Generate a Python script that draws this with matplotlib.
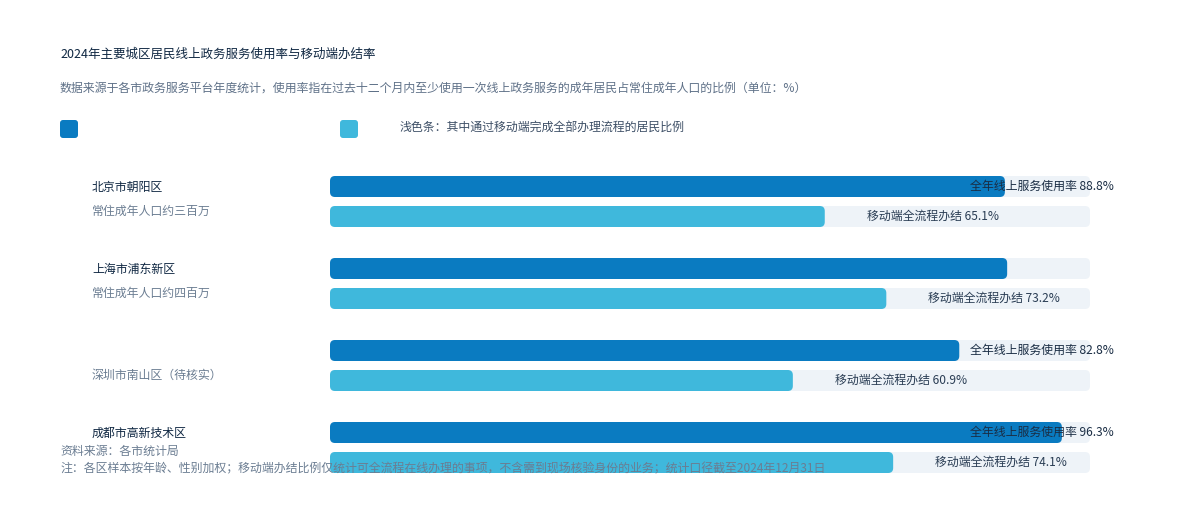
import matplotlib
matplotlib.use("Agg")
import matplotlib.pyplot as plt
from matplotlib.patches import FancyBboxPatch
from matplotlib import transforms

plt.rcParams['font.family'] = ['Noto Sans CJK SC', 'DejaVu Sans']

# ---- data ----
title = "2024年主要城区居民线上政务服务使用率与移动端办结率"
subtitle = ("数据来源于各市政务服务平台年度统计，使用率指在过去十二个月内至少使用一次"
            "线上政务服务的成年居民占常住成年人口的比例（单位：%）")
legend_labels = ["", "浅色条：其中通过移动端完成全部办理流程的居民比例"]
group_names = ["北京市朝阳区", "上海市浦东新区", "", "成都市高新技术区"]
group_subs = ["常住成年人口约三百万", "常住成年人口约四百万", "深圳市南山区（待核实）", ""]
usage_rate = [88.8, 89.1, 82.8, 96.3]
mobile_rate = [65.1, 73.2, 60.9, 74.1]
show_usage_label = [True, False, True, True]
source_note = "资料来源：各市统计局"
footnote = ("注：各区样本按年龄、性别加权；移动端办结比例仅统计可全流程在线办理的事项，"
            "不含需到现场核验身份的业务；统计口径截至2024年12月31日")

# ---- style ----
W, H = 1200, 508
dark = "#0A7BC1"
light = "#3FB8DC"
track = "#EEF3F8"
navy = "#0F2742"
grey = "#6B7D92"
fs = 8.6

fig = plt.figure(figsize=(W / 100, H / 100), dpi=100)
fig.patch.set_facecolor("white")

ax = fig.add_axes([330 / W, (H - 488.5) / H, 760 / W, 328 / H])
ax.set_xlim(0, 100)
ax.set_ylim(3.5, -0.5)
ax.axis("off")

px_x = 760 / 100
px_y = 82
aspect = px_x / px_y
bar_h = 21 / px_y
off = 15 / px_y
radius = 5 / px_x


def rbar(x0, yc, w, color, z):
    p = FancyBboxPatch((x0, yc - bar_h / 2), w, bar_h,
                       boxstyle=f"round,pad=0,rounding_size={radius}",
                       mutation_aspect=aspect, facecolor=color,
                       edgecolor="none", clip_on=False, zorder=z)
    ax.add_patch(p)


for i in range(len(usage_rate)):
    for yc, v, c in [(i - off, usage_rate[i], dark), (i + off, mobile_rate[i], light)]:
        rbar(0, yc, 100, track, 1)
        rbar(0, yc, v, c, 2)

    if show_usage_label[i]:
        ax.text(93.7, i - off, f"全年线上服务使用率 {usage_rate[i]:.1f}%",
                ha="center", va="center", fontsize=fs, color="#1A2D44", zorder=3)
    ax.text(mobile_rate[i] + 5.5, i + off, f"移动端全流程办结 {mobile_rate[i]:.1f}%",
            ha="left", va="center", fontsize=fs, color="#2A3D54", zorder=3)

# group labels on the left
lab = transforms.blended_transform_factory(fig.transFigure, ax.transData)
for i, (name, sub) in enumerate(zip(group_names, group_subs)):
    if name:
        ax.text(92 / W, i - 14 / px_y, name, transform=lab, ha="left", va="center",
                fontsize=fs, color=navy)
    if sub:
        ax.text(92 / W, i + 9.5 / px_y, sub, transform=lab, ha="left", va="center",
                fontsize=fs, color=grey)

# titles
fig.text(60 / W, 1 - 54 / H, title, ha="left", va="center", fontsize=9, color=navy)
fig.text(60 / W, 1 - 88 / H, subtitle, ha="left", va="center", fontsize=fs, color="#5F7188")

# legend
for j, (c, t) in enumerate(zip([dark, light], legend_labels)):
    x0 = (60 + 280 * j) / W
    sw = FancyBboxPatch((x0, 1 - 138 / H), 18 / W, 18 / H,
                        boxstyle=f"round,pad=0,rounding_size={3 / W}",
                        mutation_aspect=W / H, facecolor=c, edgecolor="none",
                        transform=fig.transFigure)
    fig.patches.append(sw)
    if t:
        fig.text(x0 + 60 / W, 1 - 127 / H, t, ha="left", va="center",
                 fontsize=fs, color="#3D4F66")

# footer (two lines, kept apart so they do not collide)
fig.text(60 / W, 1 - 451 / H, source_note, ha="left", va="center", fontsize=fs, color=grey,
         zorder=5)
fig.text(60 / W, 1 - 469 / H, footnote, ha="left", va="center", fontsize=fs, color=grey,
         zorder=5)

fig.savefig("out.png", dpi=100)
